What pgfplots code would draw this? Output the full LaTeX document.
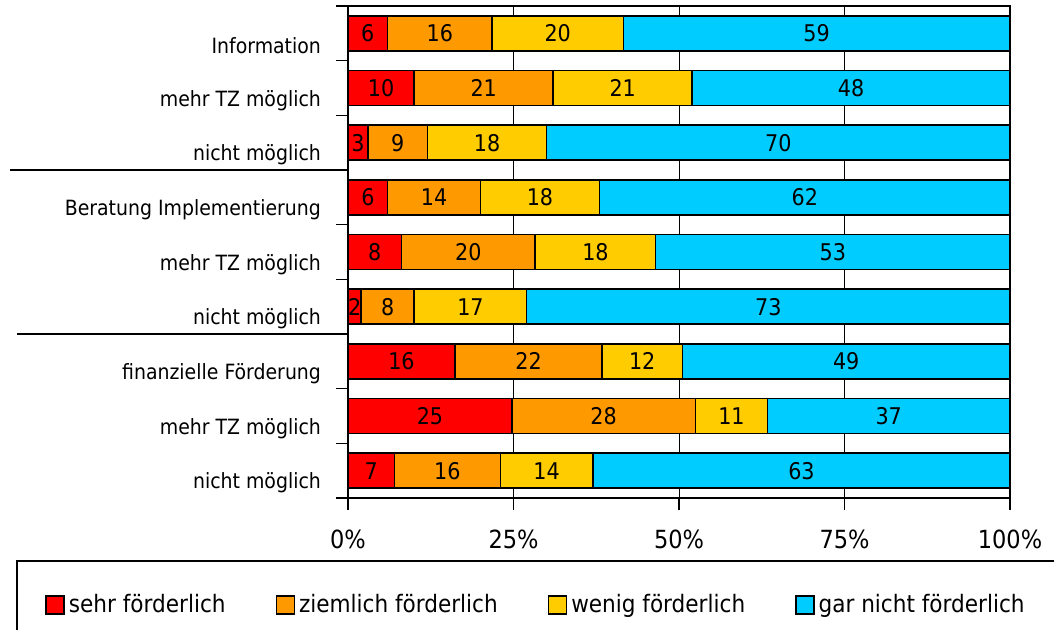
\documentclass[border=0pt]{standalone}
\usepackage{pgfplots}
\pgfplotsset{compat=1.18}
\usepackage{pgfplotstable}
\usepackage{fontspec}
\setmainfont{DejaVu Sans Condensed}
\definecolor{cRed}{HTML}{FF0000}
\definecolor{cOrange}{HTML}{FF9900}
\definecolor{cYellow}{HTML}{FFCC00}
\definecolor{cCyan}{HTML}{00CCFF}

\pgfplotstableread{
y a b c d s
0 6 16 20 59 101
1 10 21 21 48 100
2 3 9 18 70 100
3 6 14 18 62 100
4 8 20 18 53 99
5 2 8 17 73 100
6 16 22 12 49 99
7 25 28 11 37 101
8 7 16 14 63 100
}\data

\begin{document}
\begin{tikzpicture}[font=\fontsize{10.5}{12}\selectfont]
\begin{axis}[
  at={(174pt,-3pt)}, anchor=north west,
  scale only axis, width=331pt, height=246pt,
  xbar stacked, bar width=17.5pt,
  xmin=0, xmax=100, ymin=-0.5, ymax=8.5, y dir=reverse,
  clip=false,
  xtick={0,25,50,75,100},
  xticklabels={0\%,25\%,50\%,75\%,100\%},
  ytick={0.5,1.5,2.5,3.5,4.5,5.5,6.5,7.5,8.5},
  yticklabels={Information,mehr TZ möglich,nicht möglich,Beratung Implementierung,mehr TZ möglich,nicht möglich,finanzielle Förderung,mehr TZ möglich,nicht möglich},
  extra y ticks={-0.5}, extra y tick labels={},
  tick align=outside, major tick length=6pt,
  xtick pos=bottom, ytick pos=left,
  tick style={black, line width=0.75pt},
  xmajorgrids, grid style={black, line width=0.5pt},
  axis line style={black, line width=0.75pt},
  yticklabel style={yshift=7.5pt, xshift=-4pt},
  xticklabel style={yshift=-6.5pt, font=\fontsize{12.5}{14}\selectfont},
  legend columns=4,
  legend style={at={(-0.4577,-0.2175)}, anchor=west, draw=none, fill=none, inner sep=0pt,
    font=\fontsize{12}{14}\selectfont,
    /tikz/every even column/.append style={column sep=23pt}},
  legend image code/.code={\draw[#1, draw=black, line width=0.75pt] (0pt,-4.5pt) rectangle (9pt,4.5pt);},
]
\addplot[fill=cRed, draw=black, line width=0.75pt] table[x expr=\thisrow{a}/\thisrow{s}*100, y=y]{\data};
\addlegendentry{sehr förderlich}
\addplot[fill=cOrange, draw=black, line width=0.75pt] table[x expr=\thisrow{b}/\thisrow{s}*100, y=y]{\data};
\addlegendentry{ziemlich förderlich}
\addplot[fill=cYellow, draw=black, line width=0.75pt] table[x expr=\thisrow{c}/\thisrow{s}*100, y=y]{\data};
\addlegendentry{wenig förderlich}
\addplot[fill=cCyan, draw=black, line width=0.75pt] table[x expr=\thisrow{d}/\thisrow{s}*100, y=y]{\data};
\addlegendentry{gar nicht förderlich}
\draw[line width=0.75pt] (axis cs:0,2.5) -- ++(-169pt,0pt);
\draw[line width=0.75pt] (axis cs:0,5.5) -- ++(-165.5pt,0pt);
\end{axis}
\begin{axis}[
  at={(174pt,-3pt)}, anchor=north west,
  scale only axis, width=331pt, height=246pt,
  xmin=0, xmax=100, ymin=-0.5, ymax=8.5, y dir=reverse,
  hide axis, clip=false,
  point meta=explicit,
  nodes near coords={\pgfmathprintnumber[assume math mode=true]{\pgfplotspointmeta}},
  nodes near coords style={anchor=center, black, font=\fontsize{11.5}{13}\selectfont},
]
\addplot[only marks, mark=none] table[x expr=\thisrow{a}/2/\thisrow{s}*100, y=y, meta=a]{\data};
\addplot[only marks, mark=none] table[x expr=(\thisrow{a}+\thisrow{b}/2)/\thisrow{s}*100, y=y, meta=b]{\data};
\addplot[only marks, mark=none] table[x expr=(\thisrow{a}+\thisrow{b}+\thisrow{c}/2)/\thisrow{s}*100, y=y, meta=c]{\data};
\addplot[only marks, mark=none] table[x expr=(\thisrow{a}+\thisrow{b}+\thisrow{c}+\thisrow{d}/2)/\thisrow{s}*100, y=y, meta=d]{\data};
\end{axis}
\draw[line width=0.75pt] (8.5pt,-280.5pt) rectangle (540pt,-330pt);
\pgfresetboundingbox
\path[use as bounding box] (0pt,0pt) rectangle (527pt,-314.5pt);
\end{tikzpicture}
\end{document}
